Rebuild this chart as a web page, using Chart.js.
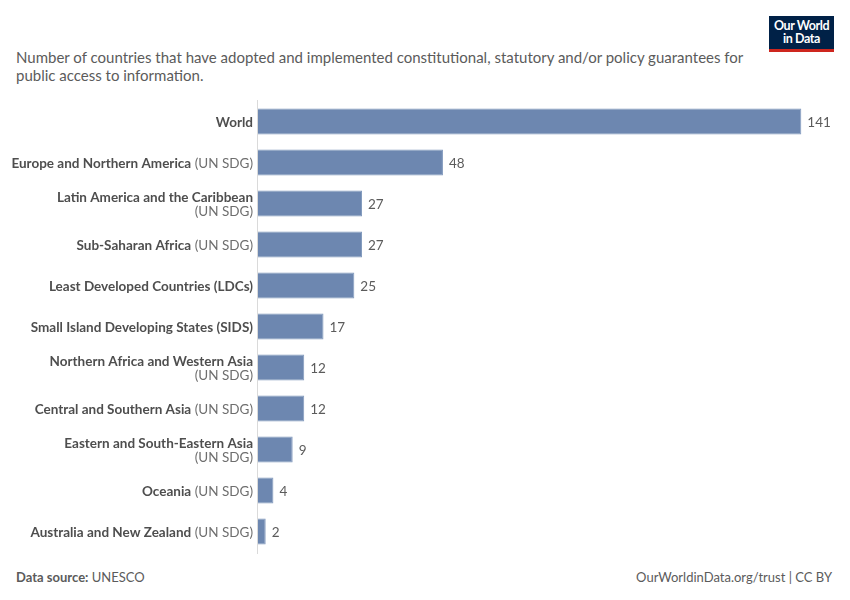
<!DOCTYPE html>
<html>
<head>
<meta charset="utf-8">
<script src="https://cdn.jsdelivr.net/npm/chart.js@4/dist/chart.umd.min.js"></script>
<style>
  body { margin: 0; background: #fff; font-family: Lato, "Noto Sans", sans-serif; }
  #page { position: relative; width: 850px; height: 600px; overflow: hidden; }
  #title { position: absolute; left: 16px; top: 48px; width: 740px; font-size: 15px; line-height: 18px; color: #5b5b5b; }
  #logo { position: absolute; left: 769px; top: 16px; width: 65px; height: 30px; background: #002147;
          border-bottom: 3px solid #ce261e; color: #fff; font-weight: 700; font-size: 12.5px;
          line-height: 13px; text-align: center; padding-top: 3px; letter-spacing: -0.4px; }
  #wrap { position: absolute; left: 0; top: 95px; width: 850px; height: 465px; }
  .foot { position: absolute; top: 569px; font-size: 13px; color: #5b5b5b; }
  #src { left: 16px; }
  #lic { right: 18px; }
</style>
</head>
<body>
<div id="page">
  <div id="title">Number of countries that have adopted and implemented constitutional, statutory and/or policy guarantees for public access to information.</div>
  <div id="logo">Our World<br>in Data</div>
  <div id="wrap"><canvas id="chart"></canvas></div>
  <div class="foot" id="src"><b>Data source:</b> UNESCO</div>
  <div class="foot" id="lic">OurWorldinData.org/trust | CC BY</div>
</div>
<script>
const regionNames = [
    'World',
    'Europe and Northern America',
    'Latin America and the Caribbean',
    'Sub-Saharan Africa',
    'Least Developed Countries (LDCs)',
    'Small Island Developing States (SIDS)',
    'Northern Africa and Western Asia',
    'Central and Southern Asia',
    'Eastern and South-Eastern Asia',
    'Oceania',
    'Australia and New Zealand'
];
const regionSuffix = ['', '(UN SDG)', '(UN SDG)', '(UN SDG)', '', '', '(UN SDG)', '(UN SDG)', '(UN SDG)', '(UN SDG)', '(UN SDG)'];
const countryCounts = [141, 48, 27, 27, 25, 17, 12, 12, 9, 4, 2];

const boldFont = '700 13.5px Lato, "Noto Sans", sans-serif';
const normFont = '400 13.5px Lato, "Noto Sans", sans-serif';

// draws the two-part labels on the left and the values after each bar
const labelPlugin = {
    id: 'owidLabels',
    afterDatasetsDraw(chart) {
        const ctx = chart.ctx;
        const area = chart.chartArea;
        const meta = chart.getDatasetMeta(0);
        const right = area.left - 5;
        const maxW = 245;

        ctx.save();
        // axis line
        ctx.strokeStyle = '#dadada';
        ctx.lineWidth = 1;
        ctx.beginPath();
        ctx.moveTo(area.left - 0.5, area.top - 1);
        ctx.lineTo(area.left - 0.5, area.bottom + 2);
        ctx.stroke();

        ctx.textBaseline = 'middle';
        meta.data.forEach((bar, i) => {
            const name = regionNames[i];
            const suf = regionSuffix[i];
            const y = bar.y + 1;
            ctx.font = boldFont;
            const nameW = ctx.measureText(name).width;
            ctx.font = normFont;
            const sufW = suf ? ctx.measureText(' ' + suf).width : 0;

            if (nameW + sufW <= maxW) {
                ctx.textAlign = 'left';
                ctx.font = boldFont;
                ctx.fillStyle = '#4e4e4e';
                ctx.fillText(name, right - nameW - sufW, y);
                if (suf) {
                    ctx.font = normFont;
                    ctx.fillStyle = '#6e6e6e';
                    ctx.fillText(' ' + suf, right - sufW, y);
                }
            } else {
                ctx.textAlign = 'right';
                ctx.font = boldFont;
                ctx.fillStyle = '#4e4e4e';
                ctx.fillText(name, right, y - 7);
                ctx.font = normFont;
                ctx.fillStyle = '#6e6e6e';
                ctx.fillText(suf, right, y + 7);
            }

            ctx.textAlign = 'left';
            ctx.font = normFont;
            ctx.fillStyle = '#5b5b5b';
            ctx.fillText(String(countryCounts[i]), bar.x + 6, y);
        });
        ctx.restore();
    }
};

const ctx = document.getElementById('chart').getContext('2d');
new Chart(ctx, {
    type: 'bar',
    data: {
        labels: regionNames,
        datasets: [{
            data: countryCounts,
            backgroundColor: '#6d87b0',
            borderColor: '#8199bd',
            borderWidth: 1,
            borderSkipped: 'start',
            barPercentage: 0.64,
            categoryPercentage: 1.0,
        }]
    },
    options: {
        indexAxis: 'y',
        responsive: true,
        maintainAspectRatio: false,
        animation: false,
        layout: {
            padding: { left: 258, right: 14, top: 6, bottom: 8 }
        },
        scales: {
            x: { display: false, min: 0, max: 150 },
            y: { display: false }
        },
        plugins: {
            legend: { display: false },
            tooltip: { enabled: false }
        }
    },
    plugins: [labelPlugin]
});
</script>
</body>
</html>
